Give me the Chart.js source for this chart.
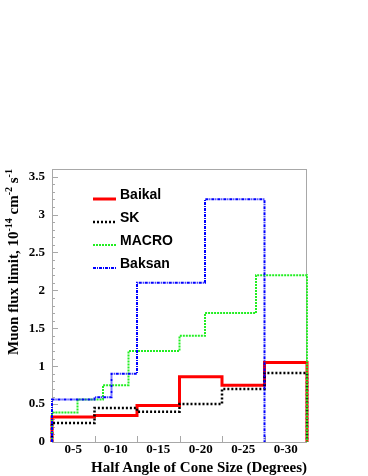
<!DOCTYPE html>
<html>
<head>
<meta charset="utf-8">
<script src="https://cdn.jsdelivr.net/npm/chart.js@4.4.1/dist/chart.umd.min.js"></script>
<style>
  html, body { margin: 0; padding: 0; background: #fff; }
  #wrap { position: relative; width: 368px; height: 476px; overflow: hidden; }
  canvas { position: absolute; left: 0; top: 0; }
  .ytitle { position: absolute; left: -100px; top: 252px; width: 230px; height: 20px; line-height: 20px;
            text-align: center; transform: rotate(-90deg); transform-origin: 50% 50%;
            font: bold 15px "Liberation Serif", "DejaVu Serif", serif; color: #000; white-space: nowrap; }
  .ytitle sup { font-size: 10px; position: relative; top: -2px; vertical-align: top; }
  .xtitle { position: absolute; right: 61px; top: 459px; line-height: 18px;
            font: bold 15px "Liberation Serif", "DejaVu Serif", serif; color: #000; white-space: nowrap; }
  .leg { position: absolute; left: 120px; height: 16px; line-height: 16px;
         font: bold 14px "Liberation Sans", Arial, sans-serif; color: #000; white-space: nowrap; }
  .sample { position: absolute; left: 93px; width: 23px; height: 6px; }
</style>
</head>
<body>
<div id="wrap">
  <canvas id="c" width="368" height="476"></canvas>
  <div class="ytitle">Muon flux limit, 10<sup>-14</sup> cm<sup>-2</sup> s<sup>-1</sup></div>
  <div class="xtitle">Half Angle of Cone Size (Degrees)</div>
  <div id="legend"></div>
</div>
<script>
// ---- data ----
const categories = ['0-5', '0-10', '0-15', '0-20', '0-25', '0-30'];
const binEdges = [0, 5, 10, 15, 20, 25, 30];
const baikal = [0.33, 0.35, 0.48, 0.86, 0.75, 1.05];
const sk = [0.25, 0.45, 0.40, 0.50, 0.70, 0.91];
const macroEdges = [0, 3, 6, 9, 15, 18, 24, 30];
const macro = [0.39, 0.56, 0.75, 1.20, 1.40, 1.70, 2.20];
const baksanEdges = [0, 5, 7, 10, 18, 25];
const baksan = [0.56, 0.59, 0.90, 2.10, 3.20];
const seriesNames = ['Baikal', 'SK', 'MACRO', 'Baksan'];
const yMax = 3.6;

// build step-histogram point lists from edges + values
function histPoints(edges, vals) {
  const pts = [{ x: edges[0], y: 0 }];
  vals.forEach((v, i) => pts.push({ x: edges[i], y: v }));
  pts.push({ x: edges[edges.length - 1], y: vals[vals.length - 1] });
  pts.push({ x: edges[edges.length - 1], y: 0 });
  return pts;
}

const styles = [
  { color: '#ff0000', width: 3, dash: [] },
  { color: '#000000', width: 2.5, dash: [2, 2] },
  { color: '#22ee22', width: 2, dash: [2, 1] },
  { color: '#0000ff', width: 2, dash: [3, 1, 1, 1] }
];

const datasets = [
  { label: seriesNames[0], data: histPoints(binEdges, baikal), order: 3 },
  { label: seriesNames[1], data: histPoints(binEdges, sk), order: 2 },
  { label: seriesNames[2], data: histPoints(macroEdges, macro), order: 1 },
  { label: seriesNames[3], data: histPoints(baksanEdges, baksan), order: 0 }
].map((d, i) => Object.assign(d, {
  borderColor: styles[i].color,
  borderWidth: styles[i].width,
  borderDash: styles[i].dash,
  stepped: 'before',
  pointRadius: 0,
  fill: false,
  clip: false,
  tension: 0,
  borderCapStyle: 'butt',
  borderJoinStyle: 'miter'
}));

// frame + inward tick marks drawn through the chart's scales
const frameTicks = {
  id: 'frameTicks',
  beforeDatasetsDraw(chart) {
    const { ctx, chartArea: a, scales } = chart;
    ctx.save();
    ctx.strokeStyle = '#a8a8a8';
    ctx.lineWidth = 1;
    ctx.strokeRect(a.left + 0.5, a.top + 0.5, a.right - a.left - 1, a.bottom - a.top);
    ctx.beginPath();
    for (let i = 1; i < binEdges.length - 1; i++) {
      const x = Math.round(scales.x.getPixelForValue(binEdges[i])) + 0.5;
      ctx.moveTo(x, a.bottom);
      ctx.lineTo(x, a.bottom - 6);
    }
    for (let i = 0; i <= Math.round(yMax * 10); i++) {
      const y = Math.round(scales.y.getPixelForValue(i / 10)) + 0.5;
      const len = (i % 5 === 0) ? 6 : 3;
      ctx.moveTo(a.left, y);
      ctx.lineTo(a.left + len, y);
    }
    ctx.stroke();
    ctx.restore();
  }
};

new Chart(document.getElementById('c'), {
  type: 'line',
  data: { datasets },
  options: {
    responsive: false,
    animation: false,
    events: [],
    layout: { padding: { top: 169, right: 61, left: 0, bottom: 0 } },
    plugins: { legend: { display: false }, tooltip: { enabled: false } },
    scales: {
      x: {
        type: 'linear', min: 0, max: 30,
        grid: { display: false, drawTicks: false },
        border: { display: false },
        afterBuildTicks: (s) => {
          s.ticks = categories.map((c, i) => ({ value: (binEdges[i] + binEdges[i + 1]) / 2 }));
        },
        afterFit: (s) => { s.height = 34; },
        ticks: {
          autoSkip: false, maxRotation: 0, padding: 0, color: '#000',
          font: { family: '"Liberation Serif", serif', size: 13, weight: 'bold' },
          callback: (v, i) => categories[i]
        }
      },
      y: {
        type: 'linear', min: 0, max: yMax,
        grid: { display: false, drawTicks: false },
        border: { display: false },
        afterFit: (s) => { s.width = 52; },
        ticks: {
          stepSize: 0.5, includeBounds: false, padding: 7, color: '#000',
          font: { family: '"Liberation Serif", serif', size: 13, weight: 'bold' },
          callback: (v) => String(v)
        }
      }
    }
  },
  plugins: [frameTicks]
});

// legend (HTML), uses the same series styles
const legendRows = [194, 217, 240, 263];
const sampleRows = [199, 222, 245, 268];
const legend = document.getElementById('legend');
seriesNames.forEach((name, i) => {
  const st = styles[i];
  const svg = document.createElementNS('http://www.w3.org/2000/svg', 'svg');
  svg.setAttribute('class', 'sample');
  svg.setAttribute('width', '23'); svg.setAttribute('height', '6');
  svg.style.top = (sampleRows[i] - 3) + 'px';
  const ln = document.createElementNS('http://www.w3.org/2000/svg', 'line');
  ln.setAttribute('x1', '0'); ln.setAttribute('x2', '23');
  ln.setAttribute('y1', '3'); ln.setAttribute('y2', '3');
  ln.setAttribute('stroke', st.color);
  ln.setAttribute('stroke-width', String(st.width));
  if (st.dash.length) ln.setAttribute('stroke-dasharray', st.dash.join(' '));
  svg.appendChild(ln);
  legend.appendChild(svg);
  const t = document.createElement('div');
  t.className = 'leg';
  t.style.top = (legendRows[i] - 8) + 'px';
  t.textContent = name;
  legend.appendChild(t);
});
</script>
</body>
</html>
